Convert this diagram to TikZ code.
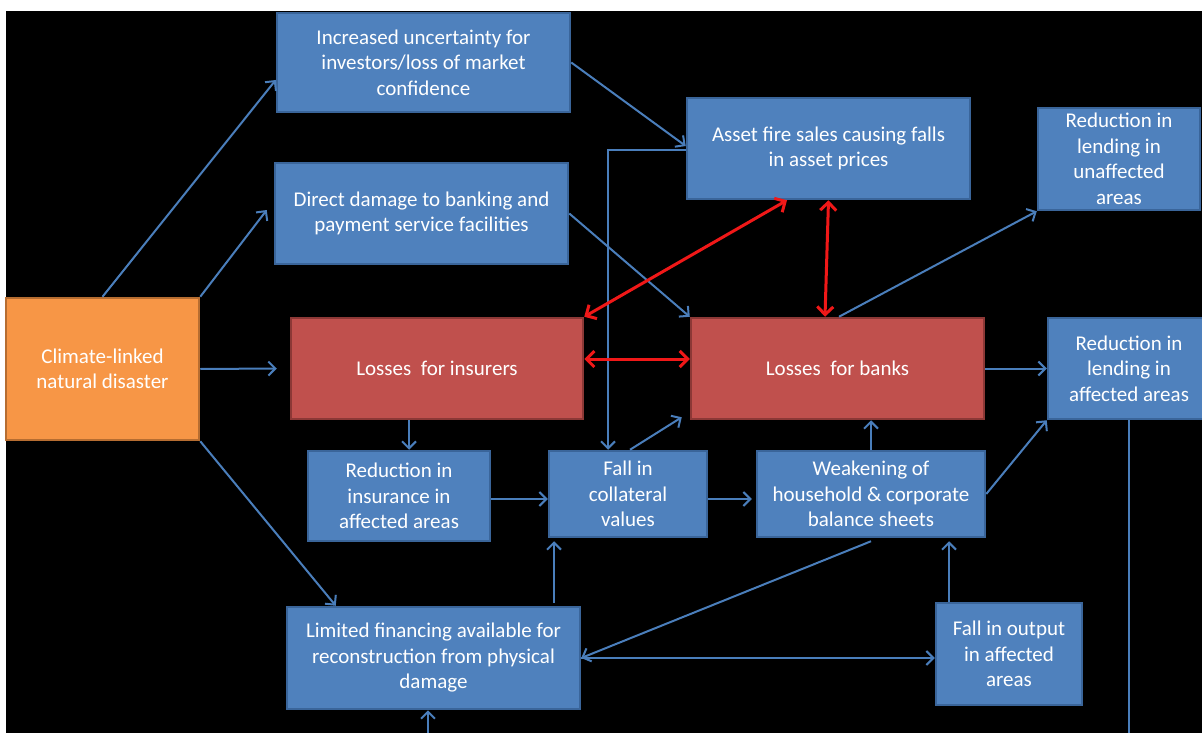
\documentclass[tikz,border=0pt]{standalone}
\usepackage{fontspec}
\setmainfont{Carlito}
\usetikzlibrary{arrows.meta}
\definecolor{boxblue}{HTML}{4F81BD}
\definecolor{edgeblue}{HTML}{3A659A}
\definecolor{boxred}{HTML}{C0504D}
\definecolor{edgered}{HTML}{8C3836}
\definecolor{boxorange}{HTML}{F79646}
\definecolor{edgeorange}{HTML}{B66D31}
\definecolor{lineblue}{HTML}{4A7EBB}
\definecolor{linered}{HTML}{F01818}

\begin{document}
\begin{tikzpicture}[x=1pt,y=-1pt]
\tikzstyle{every node}=[font=\fontsize{21}{25.5}\selectfont, text=white, align=center, inner sep=0pt]
\tikzstyle{bluebox}=[fill=boxblue, draw=edgeblue, line width=2.5pt]
\tikzstyle{redbox}=[fill=boxred, draw=edgered, line width=2.5pt]
\tikzstyle{flow}=[draw=lineblue, line width=2pt, -{Straight Barb[length=7pt,width=14pt]}]
\tikzstyle{redflow}=[draw=linered, line width=3pt, {Straight Barb[length=8pt,width=16pt]}-{Straight Barb[length=8pt,width=16pt]}]
\clip (0,0) rectangle (1202,733);
\fill[white] (0,0) rectangle (1202,733);
\fill[black] (6,11) rectangle (1202,733);

\node[bluebox, minimum width=293pt, minimum height=99pt] (incr) at (423.5,62.5) {Increased uncertainty for\\investors/loss of market\\confidence};
\node[bluebox, minimum width=293pt, minimum height=101pt] (direct) at (421.5,213.5) {Direct damage to banking and\\payment service facilities};
\node[bluebox, minimum width=283pt, minimum height=101pt] (fire) at (828.5,148.5) {Asset fire sales causing falls\\in asset prices};
\node[bluebox, minimum width=162pt, minimum height=102pt] (unaff) at (1119,159) {Reduction in\\lending in\\unaffected\\areas};
\node[fill=boxorange, draw=edgeorange, line width=2.5pt, minimum width=193pt, minimum height=142pt] (climate) at (102.5,369) {Climate-linked\\natural disaster};
\node[redbox, minimum width=292pt, minimum height=101pt] (insurers) at (437,368.5) {Losses\ \ for insurers};
\node[redbox, minimum width=293pt, minimum height=101pt] (banks) at (837.5,368.5) {Losses\ \ for banks};
\node[bluebox, minimum width=162pt, minimum height=101pt] (aff) at (1129,368.5) {Reduction in\\lending in\\affected areas};
\node[bluebox, minimum width=182pt, minimum height=90pt] (ins) at (399,496) {Reduction in\\insurance in\\affected areas};
\node[bluebox, minimum width=158pt, minimum height=86pt] (coll) at (628,494) {Fall in\\collateral\\values};
\node[bluebox, minimum width=228pt, minimum height=86pt] (weak) at (871,494) {Weakening of\\household \& corporate\\balance sheets};
\node[bluebox, minimum width=293pt, minimum height=102pt] (limited) at (433.5,658) {Limited financing available for\\reconstruction from physical\\damage};
\node[bluebox, minimum width=146pt, minimum height=102pt] (output) at (1009,654) {Fall in output\\in affected\\areas};

\coordinate (bottomA) at (1129,745);
\coordinate (bottomB) at (428,745);
\coordinate (upA) at ([xshift=120.5pt]limited.north);
\coordinate (upB) at ([xshift=-60pt]output.north);

\draw[flow] (climate.north) -- ([yshift=-17.5pt]incr.west);
\draw[flow] (climate.north east) -- ([xshift=-7pt,yshift=3.5pt]direct.west);
\draw[flow] (climate.east) -- ([xshift=-13pt]insurers.west);
\draw[flow] (climate.south east) -- ([xshift=50pt]limited.north west);
\draw[flow] (incr.east) -- ([yshift=2.5pt]fire.west);
\draw[flow] (direct.east) -- (banks.north west);
\draw[flow] ([yshift=-1.5pt]fire.west) -| ([xshift=-20pt]coll.north);
\draw[flow] ([xshift=1.5pt]banks.north) -- (unaff.south west);
\draw[flow] (banks.east) -- (aff.west);
\draw[flow] ([xshift=-28pt]insurers.south) -- ([xshift=10pt]ins.north);
\draw[flow] ([yshift=-3pt]ins.east) -- ([yshift=-5pt]coll.west);
\draw[flow] ([xshift=2pt]coll.north) -- ([xshift=-8pt,yshift=3pt]banks.south west);
\draw[flow] ([yshift=-5pt]coll.east) -- ([xshift=-4pt,yshift=-5pt]weak.west);
\draw[flow] (weak.north) -- (weak.north |- banks.south);
\draw[flow] (weak.east) -- (aff.south west);
\draw[flow] ([yshift=-3pt]weak.south) -- (limited.east);
\draw[flow] (limited.east) -- (limited.east -| output.west);
\draw[flow, shorten <=3pt, shorten >=3pt] (upA) -- (upA |- coll.south);
\draw[flow, shorten >=3pt] (upB) -- (upB |- weak.south);
\draw[lineblue, line width=2pt] (aff.south) -- (aff.south |- bottomA);
\draw[flow] (bottomB) -- ([xshift=-5.5pt]limited.south);

\draw[redflow] ([xshift=-41.5pt]fire.south) -- (insurers.north east);
\draw[redflow] (fire.south) -- ([xshift=-12.5pt]banks.north);
\draw[redflow] ([yshift=9.5pt]insurers.east) -- ([yshift=9.5pt]banks.west);
\end{tikzpicture}
\end{document}
